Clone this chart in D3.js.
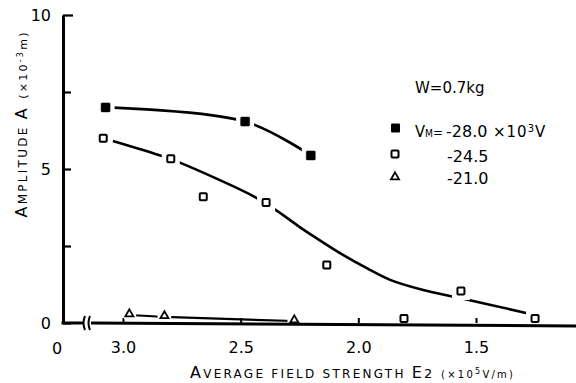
<!DOCTYPE html>
<html>
<head>
<meta charset="utf-8">
<script src="https://cdn.jsdelivr.net/npm/d3@7"></script>
<style>
  body { margin: 0; background: #fff; }
  text { font-family: "DejaVu Sans", sans-serif; fill: #000; }
</style>
</head>
<body>
<div id="chart"></div>
<script>
// tick values
var fieldTicks = [3.0, 2.5, 2.0, 1.5];
var ampTicks = [0, 2.5, 5, 7.5, 10];
var ampTickLabels = ["0", "", "5", "", "10"];

// legend
var massLabel = "W=0.7kg";
var seriesNames = ["-28.0", "-24.5", "-21.0"];

// Vm = -28.0 kV (filled squares)
var e28 = [3.074, 2.481, 2.202];
var a28 = [7.0, 6.54, 5.44];

// Vm = -24.5 kV (open squares) + drawn trend curve
var e245 = [3.084, 2.797, 2.659, 2.392, 2.134, 1.806, 1.564, 1.249];
var a245 = [6.0, 5.33, 4.10, 3.91, 1.88, 0.15, 1.04, 0.15];
var fitE = [3.043, 2.834, 2.766, 2.439, 2.347, 2.235, 2.191, 2.078, 1.964, 1.865, 1.724, 1.568, 1.283];
var fitA = [5.91, 5.42, 5.23, 4.09, 3.65, 3.04, 2.82, 2.27, 1.78, 1.40, 1.07, 0.81, 0.32];

// Vm = -21.0 kV (open triangles)
var e21 = [2.973, 2.824, 2.272];
var a21 = [0.26, 0.20, 0.065];

function init() {
  var w = 576, h = 383;
  var x0 = 63, y0 = 323;

  var svg = d3.select("#chart").append("svg")
    .attr("width", w).attr("height", h);

  var x = d3.scaleLinear().domain([3.0, 1.5]).range([123, 476]);
  var y = d3.scaleLinear().domain([0, 10]).range([y0, 15]);

  function pts(es, as) {
    return es.map(function(e, i) { return [e, as[i]]; });
  }

  // y axis
  var yAxis = d3.axisLeft(y)
    .tickValues(ampTicks)
    .tickSizeInner(-8)
    .tickSizeOuter(0)
    .tickPadding(12)
    .tickFormat(function(d, i) { return ampTickLabels[i]; });
  var gy = svg.append("g").attr("transform", "translate(" + x0 + ",0)").call(yAxis);
  gy.select(".domain").attr("stroke-width", 3);
  gy.selectAll(".tick line").attr("stroke-width", 2.2);
  gy.selectAll("text").style("font-size", "16px");
  gy.selectAll(".tick").filter(function(d) { return d === 10; })
    .select("line").attr("x2", 10);

  // x axis (ticks + labels only, domain drawn with a break)
  var xAxis = d3.axisBottom(x)
    .tickValues(fieldTicks)
    .tickSizeInner(-5)
    .tickSizeOuter(0)
    .tickPadding(19)
    .tickFormat(d3.format(".1f"));
  var gx = svg.append("g").attr("transform", "translate(0," + y0 + ")").call(xAxis);
  gx.select(".domain").remove();
  gx.selectAll(".tick line").attr("stroke-width", 2);
  gx.selectAll("text").style("font-size", "16px");

  svg.append("line").attr("x1", x0 - 1.5).attr("x2", 83).attr("y1", y0).attr("y2", y0)
    .attr("stroke", "#000").attr("stroke-width", 3);
  [84, 89].forEach(function(bx) {
    svg.append("path")
      .attr("d", "M" + (bx + 1) + "," + (y0 - 7) + " Q" + (bx - 2) + "," + y0 + " " + (bx + 1) + "," + (y0 + 7))
      .attr("fill", "none").attr("stroke", "#000").attr("stroke-width", 2);
  });
  svg.append("text").attr("x", 57).attr("y", 354).attr("text-anchor", "middle")
    .style("font-size", "16px").text("0");

  // curves
  var line = d3.line()
    .x(function(d) { return x(d[0]); })
    .y(function(d) { return y(d[1]); })
    .curve(d3.curveCatmullRom.alpha(0.5));

  svg.append("path").datum(pts(e28, a28)).attr("d", line)
    .attr("fill", "none").attr("stroke", "#000").attr("stroke-width", 2.6);
  svg.append("path").datum(pts(fitE, fitA)).attr("d", line)
    .attr("fill", "none").attr("stroke", "#000").attr("stroke-width", 2.6);
  svg.append("path").datum(pts(e21, a21)).attr("d", line)
    .attr("fill", "none").attr("stroke", "#000").attr("stroke-width", 2.2);

  // markers with white halo (gaps in curves)
  function squares(data, filled) {
    var g = svg.append("g");
    g.selectAll("rect.halo").data(data).enter().append("rect")
      .attr("class", "halo")
      .attr("x", function(d) { return x(d[0]) - 9; })
      .attr("y", function(d) { return y(d[1]) - 9; })
      .attr("width", 18).attr("height", 18).attr("fill", "#fff");
    g.selectAll("rect.mk").data(data).enter().append("rect")
      .attr("class", "mk")
      .attr("x", function(d) { return x(d[0]) - (filled ? 4.5 : 3.5); })
      .attr("y", function(d) { return y(d[1]) - (filled ? 4.5 : 3.5); })
      .attr("width", filled ? 9 : 7).attr("height", filled ? 9 : 7)
      .attr("rx", 1)
      .attr("fill", filled ? "#000" : "#fff")
      .attr("stroke", "#000").attr("stroke-width", filled ? 0.5 : 2);
  }
  squares(pts(e28, a28), true);
  squares(pts(e245, a245), false);

  var tri = d3.symbol().type(d3.symbolTriangle).size(28);
  var gt = svg.append("g");
  gt.selectAll("circle").data(pts(e21, a21)).enter().append("circle")
    .attr("cx", function(d) { return x(d[0]); })
    .attr("cy", function(d) { return y(d[1]) - 1; })
    .attr("r", 7).attr("fill", "#fff");
  gt.selectAll("path").data(pts(e21, a21)).enter().append("path")
    .attr("d", tri)
    .attr("transform", function(d) { return "translate(" + x(d[0]) + "," + (y(d[1]) - 1) + ")"; })
    .attr("fill", "#fff").attr("stroke", "#000").attr("stroke-width", 1.8);
  // main x axis line drawn over the halos
  svg.append("line").attr("x1", 91).attr("x2", w).attr("y1", y0).attr("y2", y0 + 3)
    .attr("stroke", "#000").attr("stroke-width", 3);

  // legend
  svg.append("text").attr("x", 415).attr("y", 93).style("font-size", "15px").text(massLabel);
  var legY = [128, 154, 177];
  svg.append("rect").attr("x", 391).attr("y", legY[0] - 4.5).attr("width", 9).attr("height", 9).attr("rx", 1).attr("fill", "#000");
  svg.append("rect").attr("x", 391.5).attr("y", legY[1] - 3.5).attr("width", 7).attr("height", 7).attr("rx", 1)
    .attr("fill", "#fff").attr("stroke", "#000").attr("stroke-width", 2);
  svg.append("path").attr("d", tri).attr("transform", "translate(395," + legY[2] + ")")
    .attr("fill", "#fff").attr("stroke", "#000").attr("stroke-width", 1.8);

  var vm = svg.append("text").attr("x", 415).attr("y", 137).style("font-size", "16px")
    .attr("textLength", 28).attr("lengthAdjust", "spacingAndGlyphs");
  vm.append("tspan").text("V");
  vm.append("tspan").style("font-size", "10px").text("M");
  vm.append("tspan").style("font-size", "13px").text("=");
  svg.append("text").attr("x", 446).attr("y", 137).style("font-size", "16px").text(seriesNames[0]);
  var ex = svg.append("text").attr("x", 493).attr("y", 137).style("font-size", "15px")
    .style("letter-spacing", "1px");
  ex.append("tspan").text("×10");
  ex.append("tspan").attr("dy", -5).style("font-size", "10px").text("3");
  ex.append("tspan").attr("dy", 5).text("V");
  svg.append("text").attr("x", 447).attr("y", 162).style("font-size", "16px").text(seriesNames[1]);
  svg.append("text").attr("x", 447).attr("y", 184).style("font-size", "16px").text(seriesNames[2]);

  // axis titles
  var yl = svg.append("text")
    .attr("transform", "translate(27,125) rotate(-90)")
    .attr("text-anchor", "middle")
    .attr("textLength", 185).attr("lengthAdjust", "spacing")
    .style("font-size", "16px");
  yl.append("tspan").text("A");
  yl.append("tspan").style("font-size", "12px").text("MPLITUDE ");
  yl.append("tspan").text("A ");
  yl.append("tspan").style("font-size", "11px").text("(×10");
  yl.append("tspan").attr("dy", -4).style("font-size", "8px").text("-3");
  yl.append("tspan").attr("dy", 4).style("font-size", "11px").text("m)");

  var xl = svg.append("text")
    .attr("x", 190).attr("y", 378)
    .attr("textLength", 323).attr("lengthAdjust", "spacing")
    .style("font-size", "16px");
  xl.append("tspan").text("A");
  xl.append("tspan").style("font-size", "12px").text("VERAGE FIELD STRENGTH ");
  xl.append("tspan").text("E");
  xl.append("tspan").style("font-size", "13px").text("2 ");
  xl.append("tspan").style("font-size", "10px").text("(×10");
  xl.append("tspan").attr("dy", -4).style("font-size", "8px").text("5");
  xl.append("tspan").attr("dy", 4).style("font-size", "10px").text("V/m)");
}
window.onload = init;
</script>
</body>
</html>
